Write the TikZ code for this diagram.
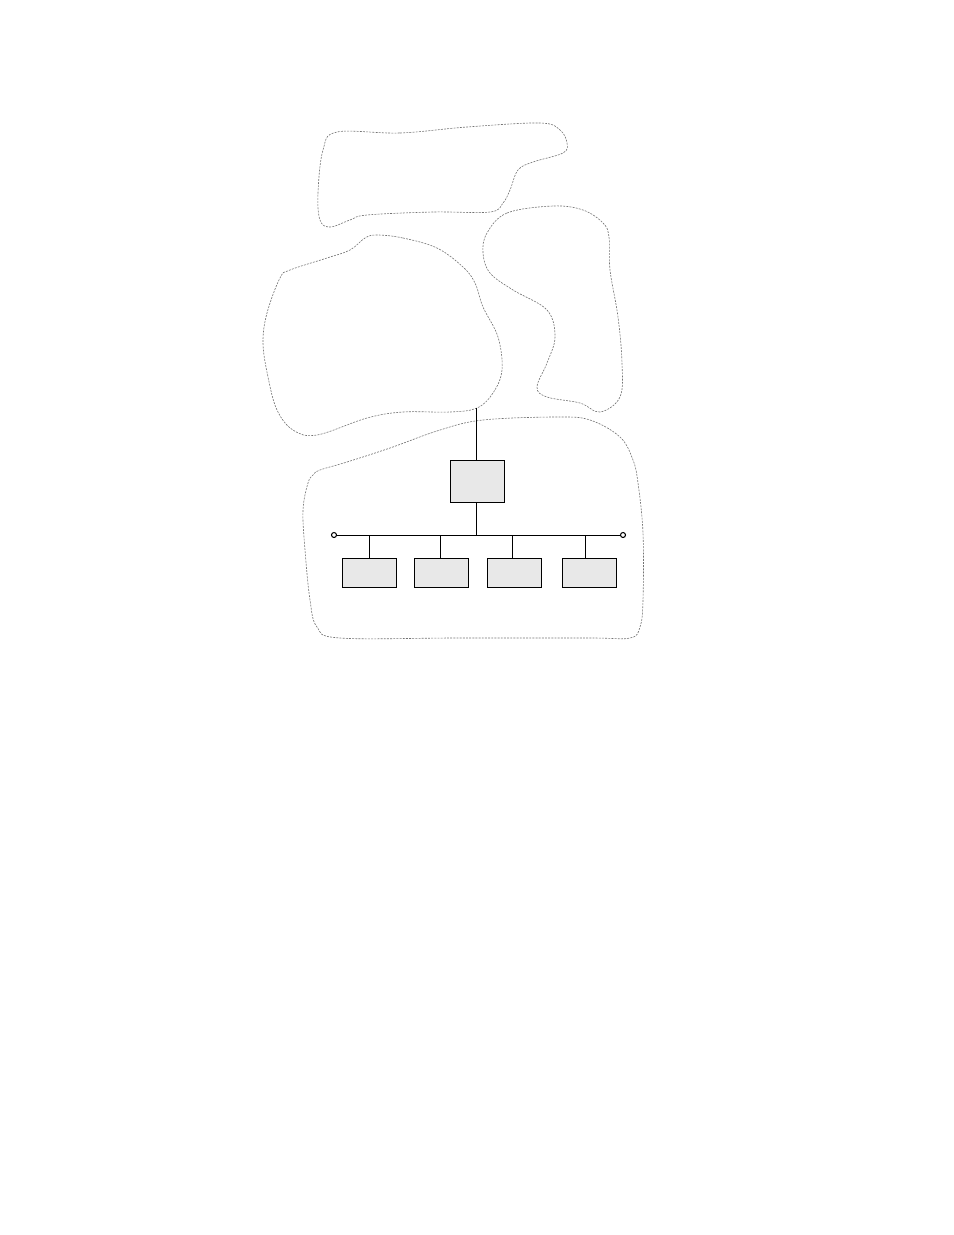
\documentclass[tikz,border=0pt]{standalone}
\usepackage{tikz}

\begin{document}
\begin{tikzpicture}[x=0.02cm, y=-0.02cm, node distance=1.84cm]
    % Estilos
    \tikzset{
        hostbox/.style={
            draw, rectangle, fill=black!9, line width=0.55pt, inner sep=0pt, minimum width=1.09cm, minimum height=0.58cm
        },
        gwbox/.style={
            draw, rectangle, fill=black!9, line width=0.55pt, inner sep=0pt, minimum width=1.08cm, minimum height=0.84cm
        },
        term/.style={
            draw, circle, fill=white, line width=0.6pt, inner sep=0pt, minimum size=0.1cm
        },
        zona/.style={
            draw=black!55, line width=0.35pt, dash pattern=on 1.1pt off 0.7pt
        }
    }
    \useasboundingbox (0,0) rectangle (954,1235);

    % Zonas (contornos punteados)
    \draw[zona] plot[smooth cycle, tension=0.6] coordinates {
        (337,132) (400,133) (467,127) (540,123) (560,130) (567,143) (563,153)
        (533,162) (518,170) (510,190) (503,203) (490,212) (433,212) (367,215)
        (350,220) (330,227) (320,220) (318,193) (323,150)};
    \draw[zona] plot[smooth cycle, tension=0.6] coordinates {
        (377,235) (403,238) (437,248) (463,267) (475,283) (483,307) (498,337)
        (502,370) (493,393) (477,408) (450,412) (403,412) (367,418) (317,435)
        (293,430) (277,410) (268,377) (263,343) (267,313) (280,278) (290,270)
        (327,258) (350,250) (365,238)};
    \draw[zona] plot[smooth cycle, tension=0.6] coordinates {
        (487,233) (507,213) (553,206) (583,210) (603,223) (609,237) (610,270)
        (618,317) (622,363) (620,397) (600,412) (580,403) (547,397) (537,387)
        (547,363) (555,337) (547,310) (513,290) (490,273) (483,253)};
    \draw[zona] plot[smooth cycle, tension=0.6] coordinates {
        (320,470) (347,462) (390,448) (440,430) (483,420) (557,417) (590,420)
        (620,437) (633,460) (638,483) (643,533) (643,600) (640,627) (630,638)
        (590,638) (457,638) (340,638) (317,627) (310,600) (305,550) (303,510)
        (308,483) (313,475)};

    % Nodos
    \coordinate (up) at (476,408);
    \node[gwbox] (gw) at (477,481) {};
    \node[term] (tL) at (334,535) {};
    \node[term] (tR) at (623,535) {};
    \node[hostbox, below of=gw, xshift=-2.15cm] (h1) {};
    \node[hostbox, below of=gw, xshift=-0.71cm] (h2) {};
    \node[hostbox, below of=gw, xshift=0.75cm] (h3) {};
    \node[hostbox, below of=gw, xshift=2.25cm] (h4) {};

    % Conexiones
    \draw[line width=0.55pt] (up) -- (up |- gw.north);
    \draw[line width=0.55pt] (up |- gw.south) -- (up |- tL);
    \draw[line width=0.55pt] (tL) -- (tR);
    \foreach \h/\dx in {h1/0,h2/-1,h3/-2,h4/-4}
        \draw[line width=0.55pt] ([xshift=\dx*0.02cm]\h.north |- tL) -- ([xshift=\dx*0.02cm]\h.north);
\end{tikzpicture}
\end{document}
